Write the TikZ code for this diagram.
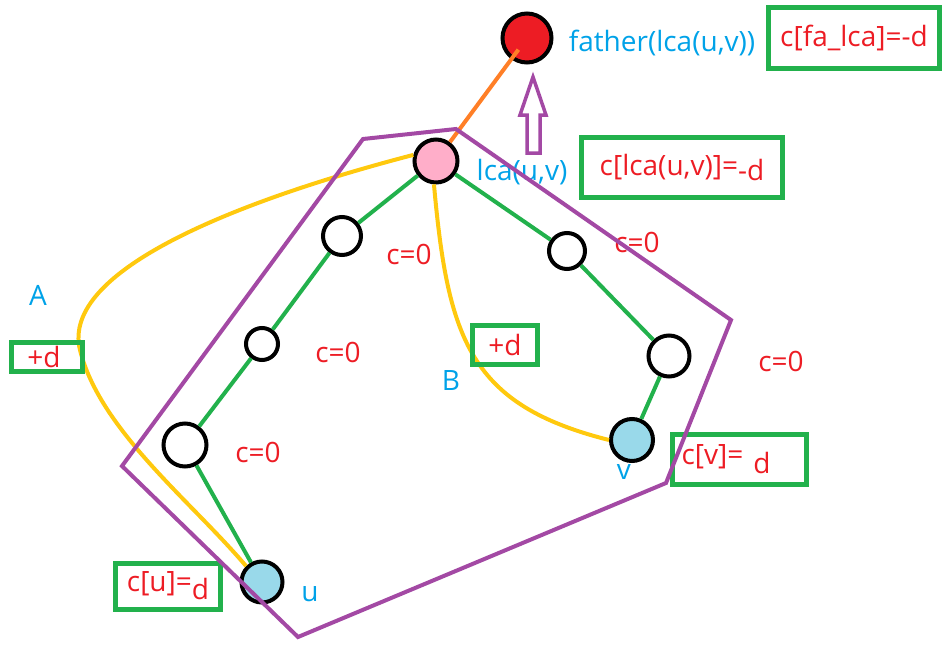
\documentclass[tikz,border=0pt]{standalone}
\usepackage{fontspec}
\setmainfont{Open Sans}
\usepackage{xcolor}
\definecolor{pgreen}{RGB}{34,177,76}
\definecolor{pred}{RGB}{237,28,36}
\definecolor{pblue}{RGB}{0,162,232}
\definecolor{ppurple}{RGB}{163,73,164}
\definecolor{porange}{RGB}{255,127,39}
\definecolor{pyellow}{RGB}{255,201,14}
\definecolor{ppink}{RGB}{255,174,201}
\definecolor{pcyan}{RGB}{153,217,234}
\newcommand{\lbl}{\fontsize{28}{30}\selectfont}

\begin{document}
\begin{tikzpicture}[x=1pt,y=-1pt,
  tnode/.style={circle,draw=black,line width=4pt,fill=white,inner sep=0pt,minimum size=#1},
  tnode/.default=42pt,
  edge/.style={pgreen,line width=4pt},
  walk/.style={pyellow,line width=4pt},
  hull/.style={ppurple,line width=4pt,line join=miter},
  val/.style={pred,font=\lbl,inner sep=0pt},
  tag/.style={pblue,font=\lbl,inner sep=0pt},
  cbox/.style={draw=pgreen,line width=5pt,inner sep=0pt,text=pred,font=\lbl}]
\useasboundingbox (0,0) rectangle (943,645);
% tree
\node[tnode=49pt,fill=pred] (fa) at (527,38) {};
\node[tnode=43pt,fill=ppink] (lca) at (436,161) {};
\node[tnode=38pt] (a1) at (342,236) {};
\node[tnode=32pt] (a2) at (262,344) {};
\node[tnode=43pt] (a3) at (185,445) {};
\node[tnode=41pt,fill=pcyan] (u) at (262,582) {};
\node[tnode=36pt] (b1) at (567,251) {};
\node[tnode=41pt] (b2) at (669,356) {};
\node[tnode=42pt,fill=pcyan] (v) at (632,440) {};
\draw[porange,line width=4pt,shorten >=-12pt] (lca) -- (fa);
\draw[edge] (lca) -- (a1);
\draw[edge] (a1) -- (a2);
\draw[edge] (a2) -- (a3);
\draw[edge] (a3) -- (u);
\draw[edge] (lca) -- (b1);
\draw[edge] (b1) -- (b2);
\draw[edge] (b2) -- (v);
% paths A and B
\draw[walk] (lca.165) .. controls (240,200) and (60,270) .. (80,350)
  .. controls (100,430) and (190,500) .. (u.north west);
\draw[walk] (lca.265) .. controls (448,340) and (470,405) .. (v.west);
% labels
\node[tag] (falbl) at (662,43) {father(lca(u,v))};
\node[tag] (lcalbl) at (522,172) {lca(u,v)};
\node[tag] (Albl) at (38,295) {A};
\node[tag] (Blbl) at (451,381) {B};
\node[tag] (ulbl) at (310,594) {u};
\node[tag] (vlbl) at (624,472) {v};
\node[val] (c1) at (409,254) {c=0};
\node[val] (c2) at (338,352) {c=0};
\node[val] (c3) at (258,452) {c=0};
\node[val] (c4) at (637,242) {c=0};
\node[val] (c5) at (781,361) {c=0};
% boxes
\node[cbox,minimum width=171pt,minimum height=61pt] (fabox) at (854,38) {c[fa\_lca]=-d};
\node[cbox,minimum width=201pt,minimum height=60pt] (lcabox) at (682,167) {c[lca(u,v)]=\raisebox{-5pt}{-d}};
\node[cbox,minimum width=71pt,minimum height=29pt] (Abox) at (47,357) {+d\hspace*{6pt}};
\node[cbox,minimum width=65pt,minimum height=39pt] (Bbox) at (505,345) {+d};
\node[cbox,minimum width=105pt,minimum height=46pt] (ubox) at (168,586) {c[u]=\raisebox{-8pt}{d}};
\node[cbox,minimum width=134pt,minimum height=50pt] (vbox) at (739,459) {c[v]=\hspace*{10pt}\raisebox{-9pt}{d}\hspace*{26pt}};
% subtree hull and arrow
\draw[hull] (363,139) -- (456,129) -- (731,320) -- (666,483) -- (298,637) -- (122,466) -- cycle;
\draw[ppurple,line width=3.5pt,line join=miter] (527,153) -- (540,153) -- (540,115) -- (546,115)
  -- (533,77) -- (520,115) -- (527,115) -- cycle;
\end{tikzpicture}
\end{document}
